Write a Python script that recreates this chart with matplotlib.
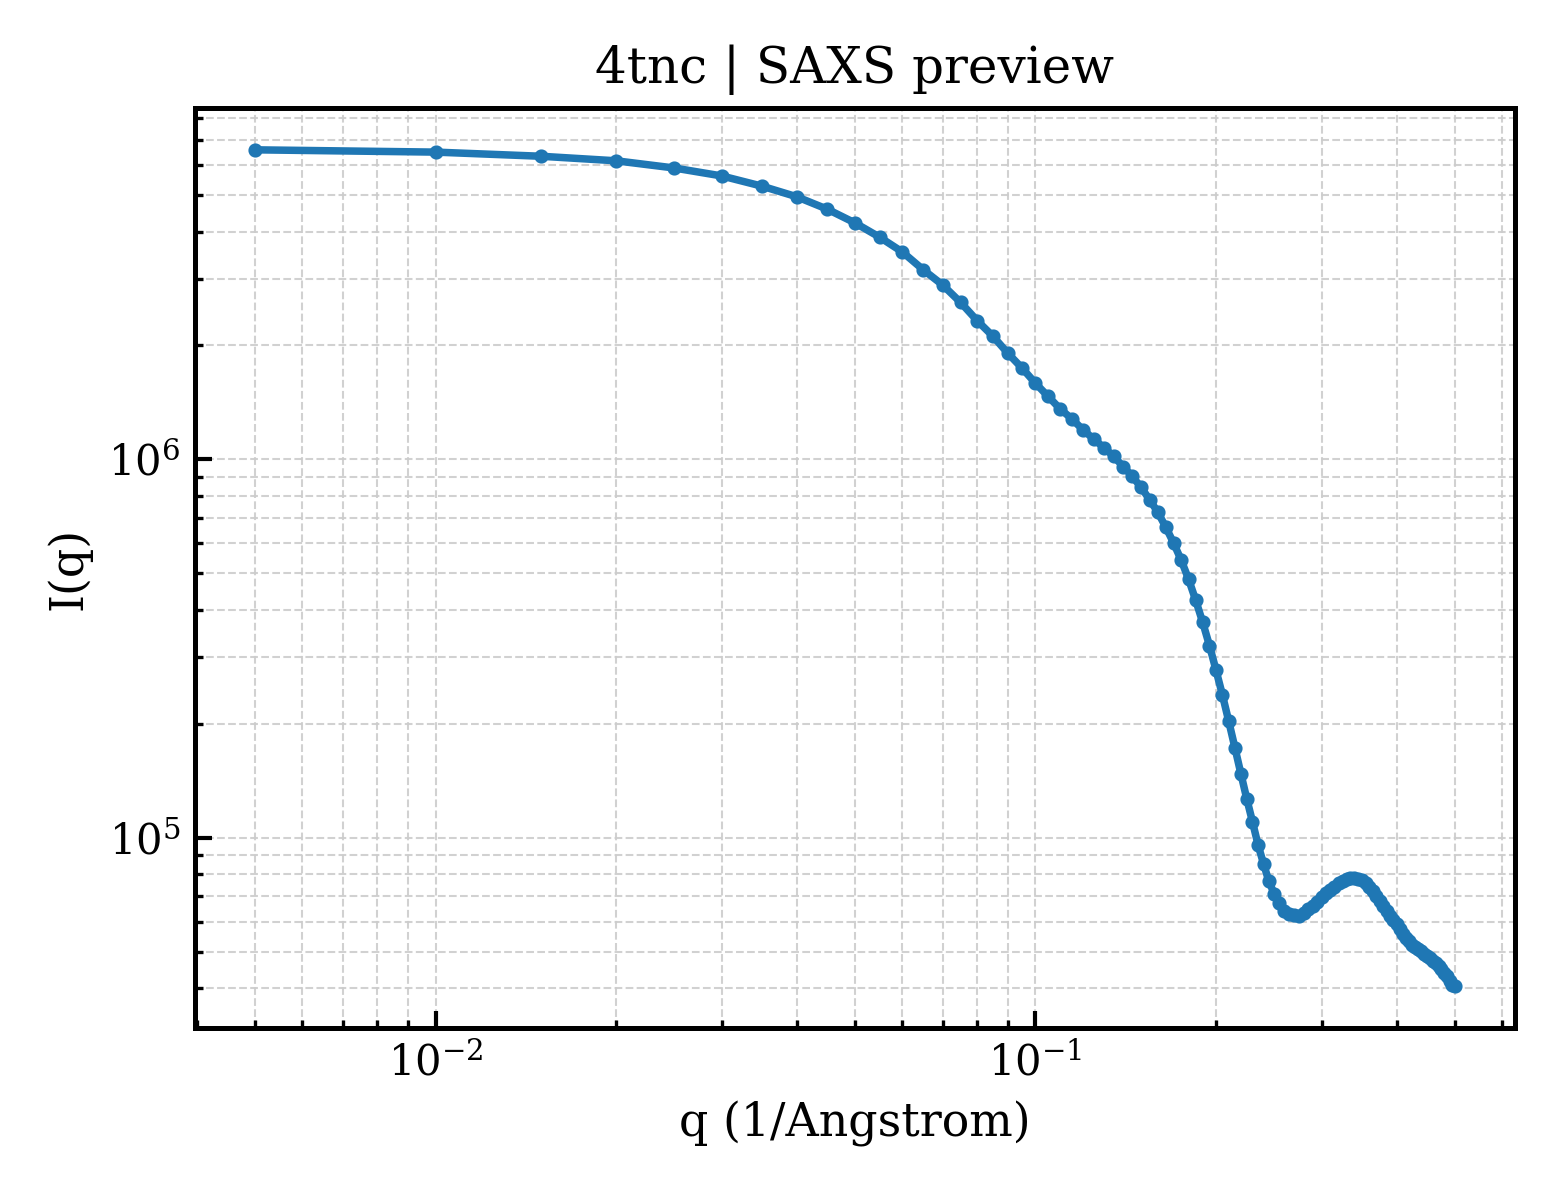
import numpy as np
from matplotlib import pyplot as plt

# q grid (1/Angstrom)
q = [0.005, 0.010, 0.015, 0.020, 0.025, 0.030, 0.035, 0.040, 0.045, 0.050,
     0.055, 0.060, 0.065, 0.070, 0.075, 0.080, 0.085, 0.090, 0.095, 0.100,
     0.105, 0.110, 0.115, 0.120, 0.125, 0.130, 0.135, 0.140, 0.145, 0.150,
     0.155, 0.160, 0.165, 0.170, 0.175, 0.180, 0.185, 0.190, 0.195, 0.200,
     0.205, 0.210, 0.215, 0.220, 0.225, 0.230, 0.235, 0.240, 0.245, 0.250,
     0.255, 0.260, 0.265, 0.270, 0.275, 0.280, 0.285, 0.290, 0.295, 0.300,
     0.305, 0.310, 0.315, 0.320, 0.325, 0.330, 0.335, 0.340, 0.345, 0.350,
     0.355, 0.360, 0.365, 0.370, 0.375, 0.380, 0.385, 0.390, 0.395, 0.400,
     0.405, 0.410, 0.415, 0.420, 0.425, 0.430, 0.435, 0.440, 0.445, 0.450,
     0.455, 0.460, 0.465, 0.470, 0.475, 0.480, 0.485, 0.490, 0.495, 0.500]

# intensity I(q)
intensity = [6.577e6, 6.486e6, 6.324e6, 6.152e6, 5.888e6, 5.610e6, 5.272e6, 4.943e6, 4.581e6, 4.217e6,
             3.864e6, 3.532e6, 3.170e6, 2.891e6, 2.600e6, 2.323e6, 2.113e6, 1.905e6, 1.742e6, 1.589e6,
             1.466e6, 1.358e6, 1.279e6, 1.197e6, 1.132e6, 1.074e6, 1.019e6, 9.57e5, 9.02e5, 8.43e5,
             7.82e5, 7.24e5, 6.61e5, 6.00e5, 5.41e5, 4.82e5, 4.24e5, 3.71e5, 3.22e5, 2.77e5,
             2.38e5, 2.03e5, 1.73e5, 1.476e5, 1.268e5, 1.102e5, 9.57e4, 8.53e4, 7.66e4, 7.11e4,
             6.73e4, 6.41e4, 6.30e4, 6.24e4, 6.22e4, 6.31e4, 6.46e4, 6.61e4, 6.78e4, 6.95e4,
             7.13e4, 7.29e4, 7.43e4, 7.59e4, 7.69e4, 7.78e4, 7.83e4, 7.83e4, 7.80e4, 7.71e4,
             7.59e4, 7.41e4, 7.21e4, 7.01e4, 6.81e4, 6.61e4, 6.40e4, 6.22e4, 6.05e4, 5.90e4,
             5.73e4, 5.57e4, 5.43e4, 5.32e4, 5.22e4, 5.14e4, 5.07e4, 5.01e4, 4.94e4, 4.88e4,
             4.81e4, 4.73e4, 4.66e4, 4.58e4, 4.49e4, 4.40e4, 4.30e4, 4.19e4, 4.09e4, 4.05e4]

plt.rcParams['font.family'] = 'DejaVu Serif'
plt.rcParams['mathtext.fontset'] = 'dejavuserif'

fig = plt.figure(figsize=(5.2, 4), dpi=300)
ax = fig.add_subplot(111)
fig.subplots_adjust(left=0.125, right=0.971, top=0.91, bottom=0.1433)

ax.plot(q, intensity, '-o', color='#1f77b4', lw=1.8, ms=2.4)
ax.set_xscale('log')
ax.set_yscale('log')

ax.set_title('4tnc | SAXS preview', fontsize=12)
ax.set_xlabel('q (1/Angstrom)', fontsize=11)
ax.set_ylabel('I(q)', fontsize=11)

ax.grid(True, which='both', ls='--', lw=0.5, color='#cccccc', alpha=0.9)
ax.tick_params(which='both', direction='in', top=False, right=False, labelsize=10)
ax.tick_params(which='major', length=4, width=1.0)
ax.tick_params(which='minor', length=2, width=0.8)
for s in ax.spines.values():
    s.set_linewidth(1.2)

plt.savefig('out.png', dpi=300)
